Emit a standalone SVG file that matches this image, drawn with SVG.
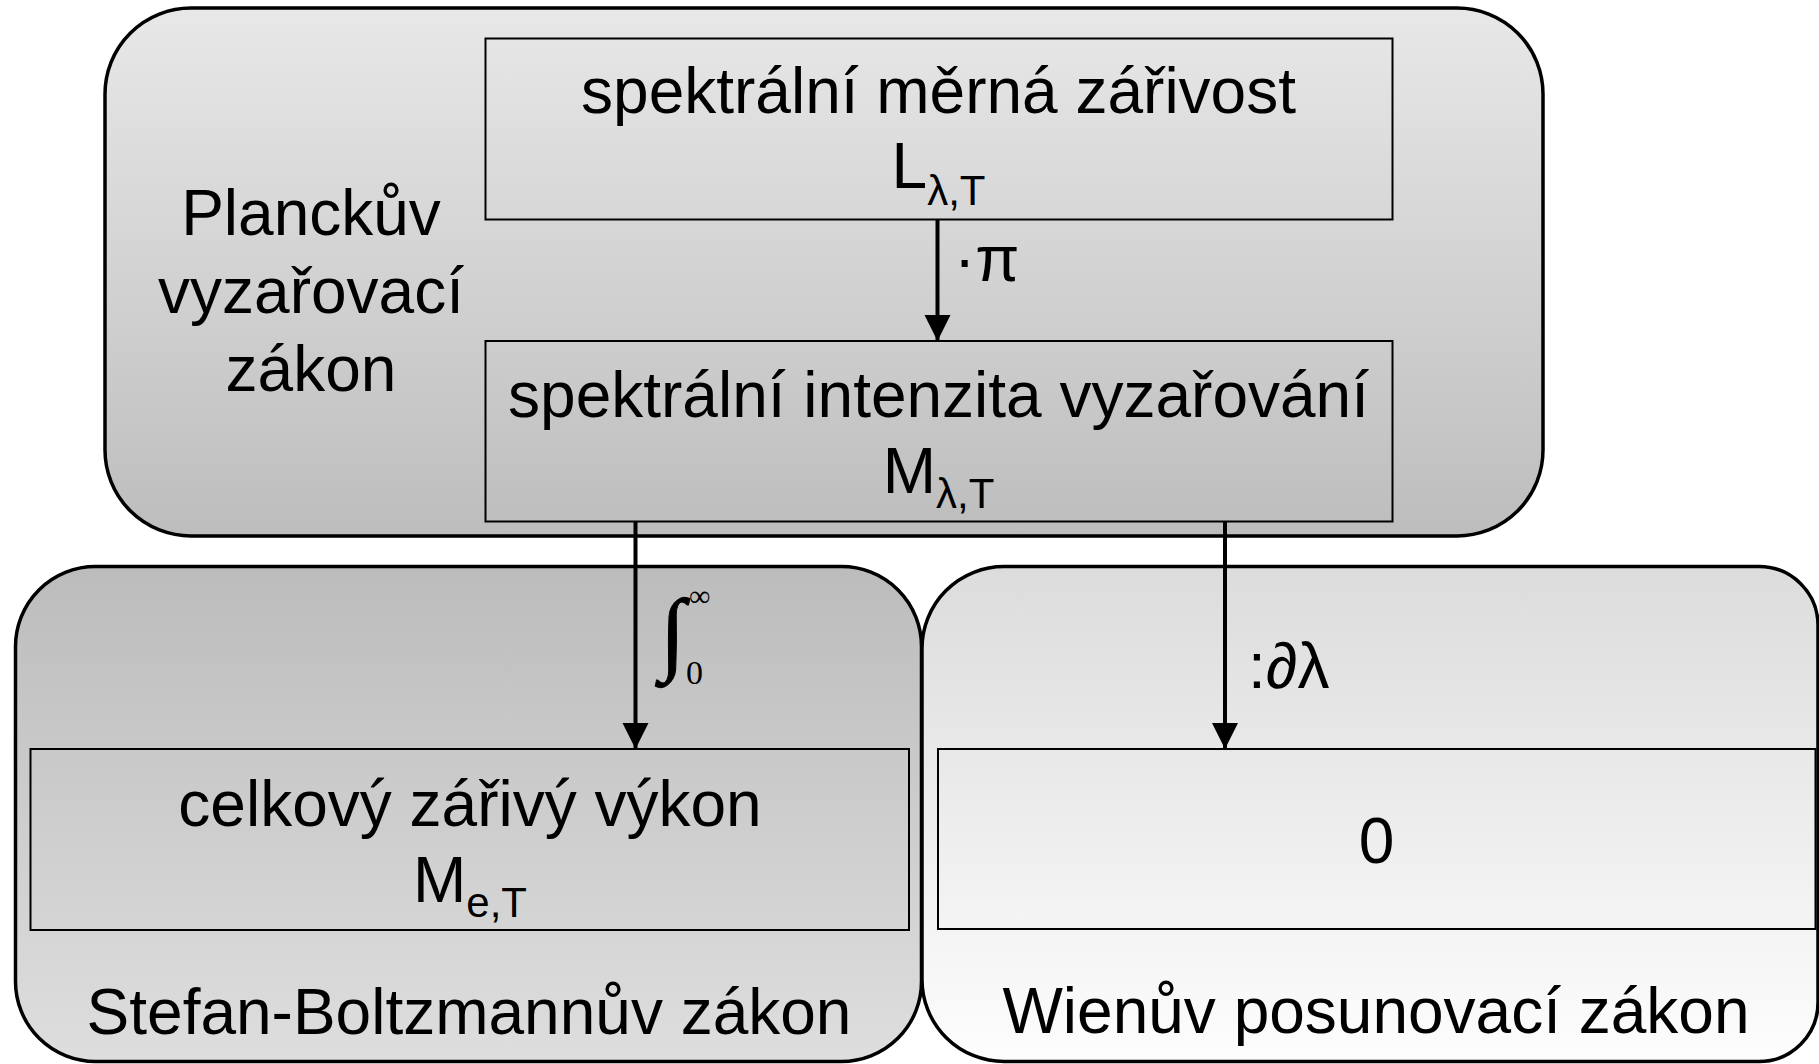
<svg xmlns="http://www.w3.org/2000/svg" width="1819" height="1064" viewBox="0 0 1819 1064">
<defs>
<linearGradient id="gTop" x1="0" y1="0" x2="0" y2="1"><stop offset="0" stop-color="#e8e8e8"/><stop offset="1" stop-color="#bdbdbd"/></linearGradient>
<linearGradient id="gLeft" x1="0" y1="0" x2="0" y2="1"><stop offset="0" stop-color="#bcbcbc"/><stop offset="1" stop-color="#dedede"/></linearGradient>
<linearGradient id="gRight" x1="0" y1="0" x2="0" y2="1"><stop offset="0" stop-color="#dcdcdc"/><stop offset="1" stop-color="#fdfdfd"/></linearGradient>
<marker id="arr" markerUnits="userSpaceOnUse" markerWidth="26" markerHeight="27" refX="26" refY="13" orient="auto" viewBox="0 0 26 26">
<path d="M0,0 L26,13 L0,26 Z" fill="#000"/>
</marker>
</defs>
<style>
.grp{stroke:#000;stroke-width:3.5}
.box{fill:none;stroke:#000;stroke-width:2}
.t{font-family:"Liberation Sans",Arial,sans-serif;font-size:64px;fill:#000;text-anchor:middle}
.s{font-size:42px}
.ser{font-family:"Liberation Serif","Times New Roman",serif;fill:#000}
.con{stroke:#000;stroke-width:4;fill:none;marker-end:url(#arr)}
</style>
<g id="planck">
<rect class="grp" x="105" y="8" width="1438" height="528" rx="86" ry="86" fill="url(#gTop)"/>
<text class="t" x="311" y="235">Planckův</text>
<text class="t" x="311" y="313">vyzařovací</text>
<text class="t" x="311" y="391">zákon</text>
</g>
<g id="stefan">
<rect class="grp" x="15.5" y="566.5" width="906" height="495" rx="80" ry="80" fill="url(#gLeft)"/>
<text class="t" x="469" y="1034">Stefan-Boltzmannův zákon</text>
</g>
<g id="wien">
<path class="grp" d="M1004,566.5 H1759 A59,59 0 0 1 1818,625.5 V1002.5 A59,59 0 0 1 1759,1061.5 H1004 A82,82 0 0 1 922,979.5 V648.5 A82,82 0 0 1 1004,566.5 Z" fill="url(#gRight)"/>
<text class="t" x="1376" y="1033">Wienův posunovací zákon</text>
</g>
<g id="L">
<rect class="box" x="485.5" y="38.5" width="907" height="181"/>
<text class="t" x="938.5" y="113">spektrální měrná zářivost</text>
<text class="t" x="938.5" y="188">L<tspan class="s" dy="17">λ,T</tspan></text>
</g>
<g id="M">
<rect class="box" x="485.5" y="341" width="907" height="180.5"/>
<text class="t" x="938.5" y="417">spektrální intenzita vyzařování</text>
<text class="t" x="938.5" y="493">M<tspan class="s" dy="15">λ,T</tspan></text>
</g>
<g id="Me">
<rect class="box" x="30.5" y="749" width="878.5" height="181"/>
<text class="t" x="470" y="826">celkový zářivý výkon</text>
<text class="t" x="470" y="902">M<tspan class="s" dy="15">e,T</tspan></text>
</g>
<g id="zero">
<rect class="box" x="938" y="749" width="877.5" height="180"/>
<text class="t" x="1376.5" y="863">0</text>
</g>
<g id="connectors">
<line class="con" x1="937.5" y1="219.5" x2="937.5" y2="341"/>
<line class="con" x1="635.5" y1="521.5" x2="635.5" y2="749"/>
<line class="con" x1="1225" y1="521.5" x2="1225" y2="749"/>
<text class="t" x="954" y="281" style="text-anchor:start">·π</text>
<text class="ser" x="660" y="663" font-size="92" stroke="#000" stroke-width="1">∫</text>
<text class="ser" x="689" y="606" font-size="30">∞</text>
<text class="ser" x="686" y="684" font-size="34">0</text>
<text class="t" x="1248" y="688" style="text-anchor:start">:∂λ</text>
</g>
</svg>
